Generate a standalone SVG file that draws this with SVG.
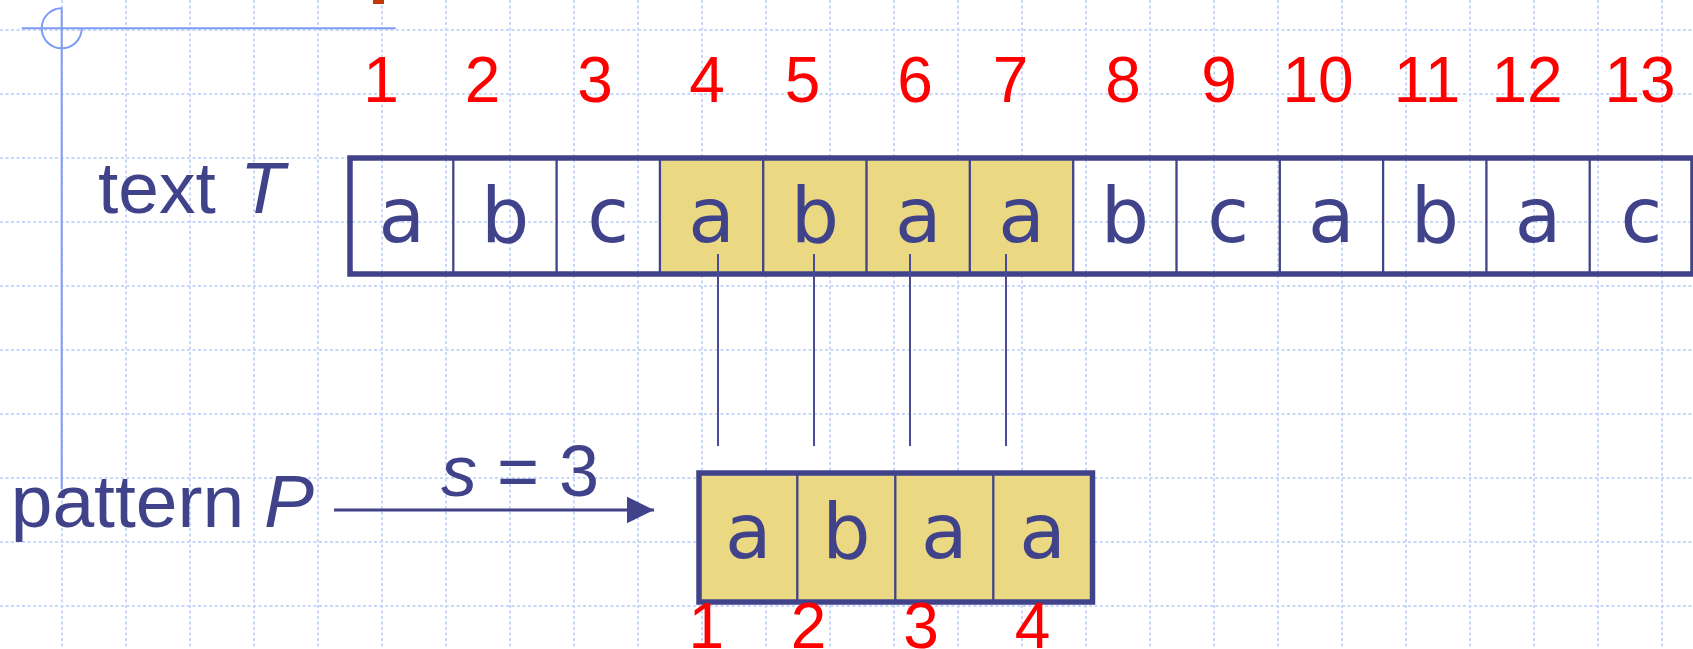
<svg xmlns="http://www.w3.org/2000/svg" width="1693" height="649" viewBox="0 0 1693 649">
<style>
.grid line{stroke:#c8d8fa;stroke-width:2;stroke-dasharray:3 2.5}
.num{font-family:"Liberation Sans",Arial,sans-serif;font-size:64px;fill:#ff0000;text-anchor:middle}
.lbl{font-family:"Liberation Sans",Arial,sans-serif;fill:#40438a}
.ch{font-family:"DejaVu Sans",Verdana,sans-serif;font-size:76px;fill:#40438a;text-anchor:middle}
.div{stroke:#40438a;stroke-width:2.3}
.outer{fill:none;stroke:#40438a;stroke-width:5.5}
.cross{stroke:#7e9cf4;stroke-width:2;fill:none}
.conn line{stroke:#4a4d95;stroke-width:2}
</style>
<defs>
<marker id="arr" markerWidth="27" markerHeight="27" refX="27" refY="13.3" orient="auto" markerUnits="userSpaceOnUse" viewBox="0 0 27 26.6">
<path d="M0,0 L27,13.3 L0,26.6 z" fill="#40438a"/>
</marker>
</defs>
<rect width="1693" height="649" fill="#ffffff"/>
<g class="grid">
<line x1="62" y1="0" x2="62" y2="649"/><line x1="126" y1="0" x2="126" y2="649"/><line x1="190" y1="0" x2="190" y2="649"/><line x1="254" y1="0" x2="254" y2="649"/><line x1="318" y1="0" x2="318" y2="649"/><line x1="382" y1="0" x2="382" y2="649"/><line x1="446" y1="0" x2="446" y2="649"/><line x1="510" y1="0" x2="510" y2="649"/><line x1="574" y1="0" x2="574" y2="649"/><line x1="638" y1="0" x2="638" y2="649"/><line x1="702" y1="0" x2="702" y2="649"/><line x1="766" y1="0" x2="766" y2="649"/><line x1="830" y1="0" x2="830" y2="649"/><line x1="894" y1="0" x2="894" y2="649"/><line x1="958" y1="0" x2="958" y2="649"/><line x1="1022" y1="0" x2="1022" y2="649"/><line x1="1086" y1="0" x2="1086" y2="649"/><line x1="1150" y1="0" x2="1150" y2="649"/><line x1="1214" y1="0" x2="1214" y2="649"/><line x1="1278" y1="0" x2="1278" y2="649"/><line x1="1342" y1="0" x2="1342" y2="649"/><line x1="1406" y1="0" x2="1406" y2="649"/><line x1="1470" y1="0" x2="1470" y2="649"/><line x1="1534" y1="0" x2="1534" y2="649"/><line x1="1598" y1="0" x2="1598" y2="649"/><line x1="1662" y1="0" x2="1662" y2="649"/>
<line x1="0" y1="30" x2="1693" y2="30"/><line x1="0" y1="94" x2="1693" y2="94"/><line x1="0" y1="158" x2="1693" y2="158"/><line x1="0" y1="222" x2="1693" y2="222"/><line x1="0" y1="286" x2="1693" y2="286"/><line x1="0" y1="350" x2="1693" y2="350"/><line x1="0" y1="414" x2="1693" y2="414"/><line x1="0" y1="478" x2="1693" y2="478"/><line x1="0" y1="542" x2="1693" y2="542"/><line x1="0" y1="606" x2="1693" y2="606"/>
</g>
<g id="crosshair">
<line class="cross" x1="21.7" y1="28.3" x2="395.7" y2="28.3"/>
<line class="cross" x1="61.7" y1="7.5" x2="61.7" y2="489"/>
<path class="cross" d="M61.7 8.3 A20 20 0 1 0 81.7 28.3"/>
<rect x="373" y="0" width="11" height="4" fill="#c3380c"/>
</g>
<g id="index-numbers">
<text class="num" x="381" y="102.3">1</text><text class="num" x="482.5" y="102.3">2</text><text class="num" x="595" y="102.3">3</text><text class="num" x="707" y="102.3">4</text><text class="num" x="802.5" y="102.3">5</text><text class="num" x="915" y="102.3">6</text><text class="num" x="1010.5" y="102.3">7</text><text class="num" x="1123" y="102.3">8</text><text class="num" x="1219" y="102.3">9</text><text class="num" x="1318" y="102.3">10</text><text class="num" x="1427" y="102.3">11</text><text class="num" x="1527" y="102.3">12</text><text class="num" x="1640" y="102.3">13</text>
</g>
<g id="label-text">
<text class="lbl" x="98" y="212.7" font-size="73">text</text>
<text class="lbl" x="240" y="212.7" font-size="73" font-style="italic">T</text>
</g>
<g id="text-T">
<rect x="660" y="158" width="413.2" height="116" fill="#ebd883"/>
<line class="div" x1="453.3" y1="158" x2="453.3" y2="274"/><line class="div" x1="556.6" y1="158" x2="556.6" y2="274"/><line class="div" x1="659.9" y1="158" x2="659.9" y2="274"/><line class="div" x1="763.2" y1="158" x2="763.2" y2="274"/><line class="div" x1="866.5" y1="158" x2="866.5" y2="274"/><line class="div" x1="969.8" y1="158" x2="969.8" y2="274"/><line class="div" x1="1073.2" y1="158" x2="1073.2" y2="274"/><line class="div" x1="1176.5" y1="158" x2="1176.5" y2="274"/><line class="div" x1="1279.8" y1="158" x2="1279.8" y2="274"/><line class="div" x1="1383.1" y1="158" x2="1383.1" y2="274"/><line class="div" x1="1486.4" y1="158" x2="1486.4" y2="274"/><line class="div" x1="1589.7" y1="158" x2="1589.7" y2="274"/>
<rect class="outer" x="350" y="158" width="1343" height="116"/>
<text class="ch" x="401.7" y="241.5">a</text><text class="ch" x="505" y="241.5">b</text><text class="ch" x="608.2" y="241.5">c</text><text class="ch" x="711.6" y="241.5">a</text><text class="ch" x="814.9" y="241.5">b</text><text class="ch" x="918.2" y="241.5">a</text><text class="ch" x="1021.5" y="241.5">a</text><text class="ch" x="1124.8" y="241.5">b</text><text class="ch" x="1228.1" y="241.5">c</text><text class="ch" x="1331.4" y="241.5">a</text><text class="ch" x="1434.8" y="241.5">b</text><text class="ch" x="1538.1" y="241.5">a</text><text class="ch" x="1641.3" y="241.5">c</text>
</g>
<g id="connectors" class="conn">
<line x1="718" y1="254" x2="718" y2="446"/>
<line x1="814" y1="254" x2="814" y2="446"/>
<line x1="910" y1="254" x2="910" y2="446"/>
<line x1="1006" y1="254" x2="1006" y2="446"/>
<line x1="334" y1="510" x2="654" y2="510" marker-end="url(#arr)" style="stroke:#40438a;stroke-width:3"/>
</g>
<g id="shift-label">
<text class="lbl" x="441" y="495.7" font-size="72"><tspan font-style="italic">s</tspan> = 3</text>
</g>
<g id="label-pattern">
<text class="lbl" x="10.7" y="527.3" font-size="75">pattern</text>
<text class="lbl" x="264" y="527.3" font-size="75" font-style="italic">P</text>
</g>
<g id="pattern-P">
<rect x="699" y="473" width="393.5" height="129" fill="#ebd883"/>
<line class="div" x1="797.3" y1="473" x2="797.3" y2="602"/><line class="div" x1="895.3" y1="473" x2="895.3" y2="602"/><line class="div" x1="993.3" y1="473" x2="993.3" y2="602"/>
<rect class="outer" x="699" y="473" width="393.5" height="129"/>
<text class="ch" x="748.2" y="557.5">a</text><text class="ch" x="846.3" y="557.5">b</text><text class="ch" x="944.3" y="557.5">a</text><text class="ch" x="1042.5" y="557.5">a</text>
</g>
<g id="pattern-numbers">
<text class="num" x="706.4" y="648">1</text><text class="num" x="808.5" y="648">2</text><text class="num" x="921" y="648">3</text><text class="num" x="1032.5" y="648">4</text>
</g>
</svg>
